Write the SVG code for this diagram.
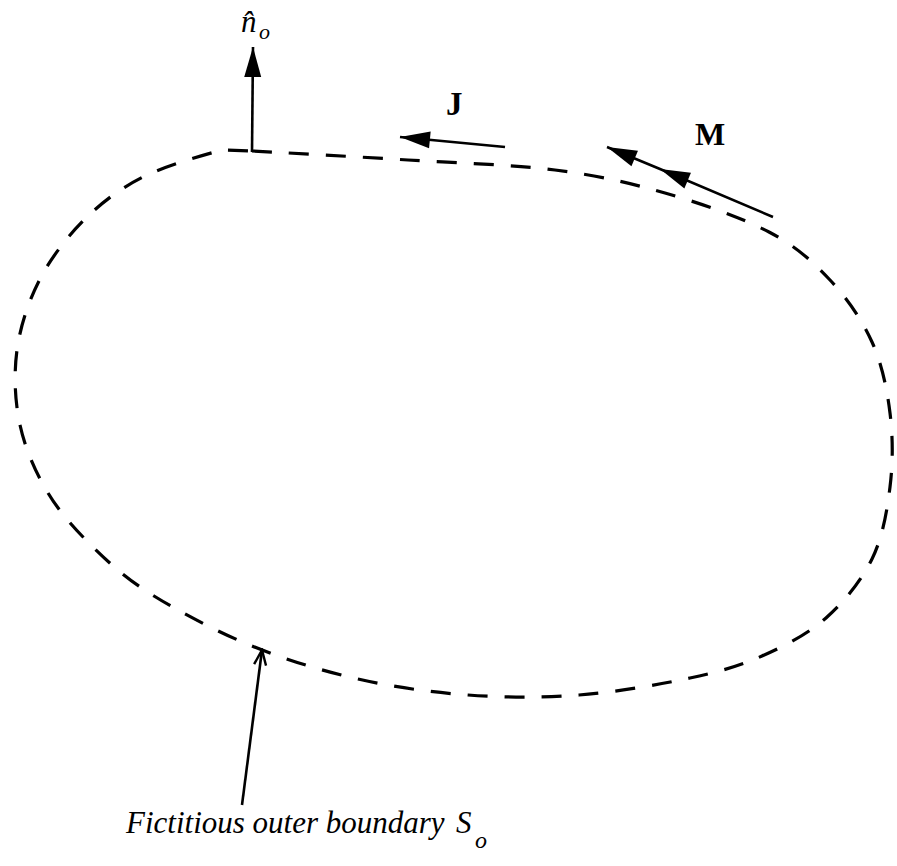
<svg xmlns="http://www.w3.org/2000/svg" width="897" height="866" viewBox="0 0 897 866">
<style>
.bnd{fill:none;stroke:#000;stroke-width:3.2;stroke-dasharray:20 17;}
.arr{fill:none;stroke:#000;stroke-width:2.6;}
.lbl{font-family:"Liberation Serif","Times New Roman",serif;fill:#000;}
.it{font-style:italic;}
.bd{font-weight:bold;}
</style>
<defs>
<marker id="head" markerUnits="userSpaceOnUse" viewBox="-31 -9 32 18" markerWidth="32" markerHeight="18" refX="0" refY="0" orient="auto">
<path d="M0,0 L-30,-8.5 L-30,8.5 Z" fill="#000"/>
</marker>
<marker id="open" markerUnits="userSpaceOnUse" viewBox="-17 -8 19 16" markerWidth="19" markerHeight="16" refX="0" refY="0" orient="auto">
<path d="M-15,-6 L0,0 L-15,6" fill="none" stroke="#000" stroke-width="2.4"/>
</marker>
</defs>
<g id="boundary">
<path class="bnd" d="M252,151 C283,152.7 357.5,156.8 408,160 C458.5,163.2 512.2,164.5 555,170 C597.8,175.5 629.3,182.7 665,193 C700.7,203.3 741.5,217.5 769,232 C796.5,246.5 812.8,261.7 830,280 C847.2,298.3 862,319.8 872,342 C882,364.2 887,388.8 890,413 C893,437.2 893,462.7 890,487 C887,511.3 882.7,537.2 872,559 C861.3,580.8 844.3,601.8 826,618 C807.7,634.2 784.7,646 762,656 C739.3,666 720.5,671.5 690,678 C659.5,684.5 616,692.2 579,695 C542,697.8 504.8,697.7 468,695 C431.2,692.3 394,687.2 358,679 C322,670.8 286,659.8 252,646 C218,632.2 180.2,612.2 154,596 C127.8,579.8 112.7,566.2 95,549 C77.3,531.8 60.5,513.7 48,493 C35.5,472.3 25.2,448.8 20,425 C14.8,401.2 13.7,374.3 17,350 C20.3,325.7 28.7,300.8 40,279 C51.3,257.2 67.8,236 85,219 C102.2,202 120.2,188.5 143,177 C165.8,165.5 207,154 222,150 L252,151"/>
</g>
<g id="connectors">
<line id="normal-arrow" class="arr" x1="252" y1="152" x2="253" y2="47" marker-end="url(#head)"/>
<line id="J-arrow" class="arr" x1="505" y1="147" x2="400" y2="137" marker-end="url(#head)"/>
<polyline id="M-arrow" class="arr" points="773,217 660,169 607,147" marker-mid="url(#head)" marker-end="url(#head)"/>
<line id="pointer-arrow" class="arr" x1="242" y1="805" x2="262" y2="650" marker-end="url(#open)"/>
</g>
<g id="label-normal">
<text class="lbl it" x="241" y="32" font-size="31">n̂</text>
<text class="lbl it" x="259" y="39" font-size="22">o</text>
</g>
<g id="label-J">
<text class="lbl bd" x="446" y="115" font-size="33">J</text>
</g>
<g id="label-M">
<text class="lbl bd" x="695" y="145" font-size="32">M</text>
</g>
<g id="label-boundary">
<text class="lbl it" x="126" y="833" font-size="31">Fictitious outer boundary</text>
<text class="lbl it" x="456" y="833" font-size="31">S</text>
<text class="lbl it" x="475" y="848" font-size="24">o</text>
</g>
</svg>
